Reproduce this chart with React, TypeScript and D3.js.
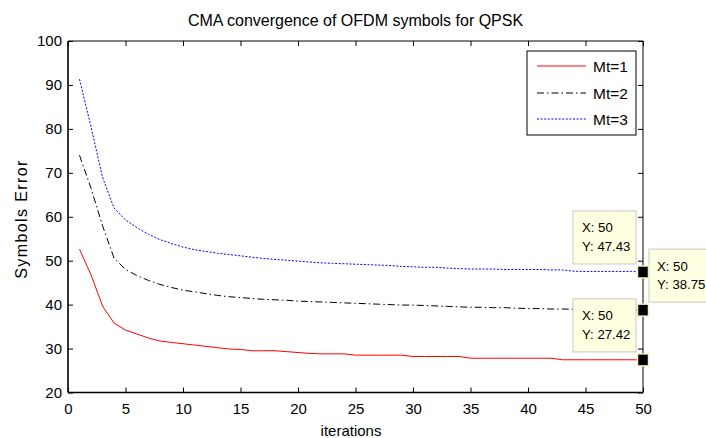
import React, { useRef, useEffect } from 'react';
import * as d3 from 'd3';

const iterations = d3.range(1, 51);

const mt1 = [
  52.6, 46.8, 39.7, 35.8, 34.2, 33.3, 32.4, 31.7, 31.4, 31.1,
  30.8, 30.5, 30.2, 29.9, 29.8, 29.5, 29.5, 29.5, 29.3, 29.1,
  28.9, 28.8, 28.8, 28.8, 28.5, 28.5, 28.5, 28.5, 28.5, 28.2,
  28.2, 28.2, 28.2, 28.2, 27.8, 27.8, 27.8, 27.8, 27.8, 27.8,
  27.8, 27.8, 27.45, 27.45, 27.45, 27.45, 27.45, 27.45, 27.45, 27.42,
];

const mt2 = [
  74.0, 66.5, 58.0, 50.6, 48.0, 46.6, 45.5, 44.6, 43.9, 43.3,
  42.9, 42.5, 42.1, 41.8, 41.6, 41.4, 41.2, 41.1, 41.0, 40.8,
  40.7, 40.6, 40.5, 40.4, 40.3, 40.2, 40.1, 40.0, 39.9, 39.9,
  39.8, 39.7, 39.6, 39.5, 39.4, 39.4, 39.3, 39.3, 39.2, 39.1,
  39.1, 39.0, 39.0, 38.95, 38.9, 38.9, 38.85, 38.8, 38.8, 38.75,
];

const mt3 = [
  91.3, 80.5, 69.0, 62.0, 59.3, 57.5, 56.0, 54.8, 53.9, 53.1,
  52.5, 52.1, 51.7, 51.4, 51.1, 50.8, 50.5, 50.3, 50.1, 49.9,
  49.7, 49.5, 49.4, 49.3, 49.2, 49.1, 49.0, 48.9, 48.7, 48.6,
  48.5, 48.5, 48.3, 48.2, 48.1, 48.1, 48.1, 48.0, 48.0, 48.0,
  48.0, 47.9, 47.9, 47.6, 47.55, 47.55, 47.55, 47.55, 47.55, 47.43,
];

const seriesNames = ['Mt=1', 'Mt=2', 'Mt=3'];
const xTicks = d3.range(0, 51, 5);
const yTicks = d3.range(20, 101, 10);

// data tips shown at x = 50 (marker on each curve, label text as in the figure)
const tipX = [50, 50, 50];
const tipMarkerY = [47.43, 38.75, 27.42];
const tipLabelY = ['47.43', '38.75', '27.42'];

const WIDTH = 706;
const HEIGHT = 438;
const FONT = '"Liberation Sans", Arial, sans-serif';

const App: React.FC = () => {
  const svgRef = useRef<SVGSVGElement>(null);

  useEffect(() => {
    if (!svgRef.current) return;
    d3.select(svgRef.current).selectAll('*').remove();

    const svg = d3.select(svgRef.current)
      .attr('width', WIDTH)
      .attr('height', HEIGHT)
      .style('font-family', FONT);

    svg.append('rect').attr('width', WIDTH).attr('height', HEIGHT).attr('fill', '#fff');

    const left = 68, right = 643, top = 41, bottom = 392.5;
    const x = d3.scaleLinear().domain([0, 50]).range([left, right]);
    const y = d3.scaleLinear().domain([20, 100]).range([bottom, top]);

    // axes (ticks pointing inwards, MATLAB style)
    const gx = svg.append('g')
      .attr('transform', `translate(0,${bottom})`)
      .call(d3.axisBottom(x).tickValues(xTicks).tickSizeInner(-5).tickSizeOuter(0).tickPadding(11));
    const gxTop = svg.append('g')
      .attr('transform', `translate(0,${top})`)
      .call(d3.axisTop(x).tickValues(xTicks).tickSizeInner(-5).tickSizeOuter(0).tickFormat(() => ''));
    const gy = svg.append('g')
      .attr('transform', `translate(${left},0)`)
      .call(d3.axisLeft(y).tickValues(yTicks).tickSizeInner(-5).tickSizeOuter(0).tickPadding(6));
    const gyRight = svg.append('g')
      .attr('transform', `translate(${right},0)`)
      .call(d3.axisRight(y).tickValues(yTicks).tickSizeInner(-5).tickSizeOuter(0).tickFormat(() => ''));

    [gx, gxTop, gy, gyRight].forEach(g => {
      g.select('.domain').remove();
      g.selectAll('.tick line').attr('stroke', '#000').attr('stroke-width', 1);
      g.selectAll('.tick text')
        .attr('fill', '#000')
        .style('font-size', '15px')
        .style('font-family', FONT);
    });

    // box
    svg.append('line').attr('x1', left).attr('x2', right).attr('y1', top).attr('y2', top)
      .attr('stroke', '#000').attr('stroke-width', 1);
    svg.append('line').attr('x1', right).attr('x2', right).attr('y1', top).attr('y2', bottom)
      .attr('stroke', '#000').attr('stroke-width', 1);
    svg.append('line').attr('x1', left).attr('x2', right).attr('y1', bottom).attr('y2', bottom)
      .attr('stroke', '#000').attr('stroke-width', 1.6);
    svg.append('line').attr('x1', left).attr('x2', left).attr('y1', top).attr('y2', bottom)
      .attr('stroke', '#000').attr('stroke-width', 1.6);

    // curves
    const styles = [
      { color: '#ff0000', dash: null },
      { color: '#000000', dash: '7,3,1.5,3' },
      { color: '#0000ff', dash: '2,1.6' },
    ];
    const allSeries = [mt1, mt2, mt3];
    const line = d3.line<number>()
      .x((_, i) => x(iterations[i]))
      .y(d => y(d));

    allSeries.forEach((s, i) => {
      svg.append('path')
        .datum(s)
        .attr('fill', 'none')
        .attr('stroke', styles[i].color)
        .attr('stroke-width', 1)
        .attr('stroke-dasharray', styles[i].dash)
        .attr('d', line);
    });

    // title and labels
    svg.append('text')
      .attr('x', (left + right) / 2)
      .attr('y', 26)
      .attr('text-anchor', 'middle')
      .style('font-size', '16px')
      .text('CMA convergence of OFDM symbols for QPSK');

    svg.append('text')
      .attr('x', 351)
      .attr('y', 436)
      .attr('text-anchor', 'middle')
      .style('font-size', '15px')
      .text('iterations');

    svg.append('text')
      .attr('transform', `translate(27,219) rotate(-90)`)
      .attr('text-anchor', 'middle')
      .style('font-size', '16px')
      .style('letter-spacing', '1.4px')
      .text('Symbols Error');

    // legend
    const lg = svg.append('g');
    lg.append('rect')
      .attr('x', 527).attr('y', 51).attr('width', 109).attr('height', 84)
      .attr('fill', '#fff').attr('stroke', '#000').attr('stroke-width', 1);
    const rowY = [66, 93, 119];
    seriesNames.forEach((name, i) => {
      lg.append('line')
        .attr('x1', 537).attr('x2', 586)
        .attr('y1', rowY[i]).attr('y2', rowY[i])
        .attr('stroke', styles[i].color)
        .attr('stroke-width', 1)
        .attr('stroke-dasharray', styles[i].dash);
      lg.append('text')
        .attr('x', 593).attr('y', rowY[i])
        .attr('dy', '0.36em')
        .style('font-size', '15.5px')
        .text(name);
    });

    // data tips: blue -> up-left, black -> up-right, red -> up-left
    const tipSides = ['left', 'right', 'left'];
    const boxW = 63, boxH = 53;
    tipX.forEach((tx, i) => {
      const mx = x(tx);
      const my = y(tipMarkerY[i]);
      const bx = tipSides[i] === 'left' ? mx - 7 - boxW : mx + 6;
      const by = my - 8 - boxH;
      const pad = tipSides[i] === 'left' ? 9 : 8;
      const tg = svg.append('g');
      tg.append('rect')
        .attr('x', bx).attr('y', by).attr('width', boxW).attr('height', boxH)
        .attr('fill', '#ffffe1').attr('stroke', '#c8c8c0').attr('stroke-width', 1);
      tg.append('text')
        .attr('x', bx + pad).attr('y', by + 21.5)
        .style('font-size', '13.2px')
        .text(`X: ${tx}`);
      tg.append('text')
        .attr('x', bx + pad).attr('y', by + 40)
        .style('font-size', '13.2px')
        .text(`Y: ${tipLabelY[i]}`);
    });
    tipX.forEach((tx, i) => {
      const mx = x(tx);
      const my = y(tipMarkerY[i]);
      svg.append('rect')
        .attr('x', mx - 5.5).attr('y', my - 6).attr('width', 11).attr('height', 12)
        .attr('fill', '#000').attr('stroke', '#f4f0c8').attr('stroke-width', 1.5);
    });
  }, []);

  return (
    <svg ref={svgRef} style={{ position: 'absolute', left: 0, top: 0 }}></svg>
  );
};

export default App;
